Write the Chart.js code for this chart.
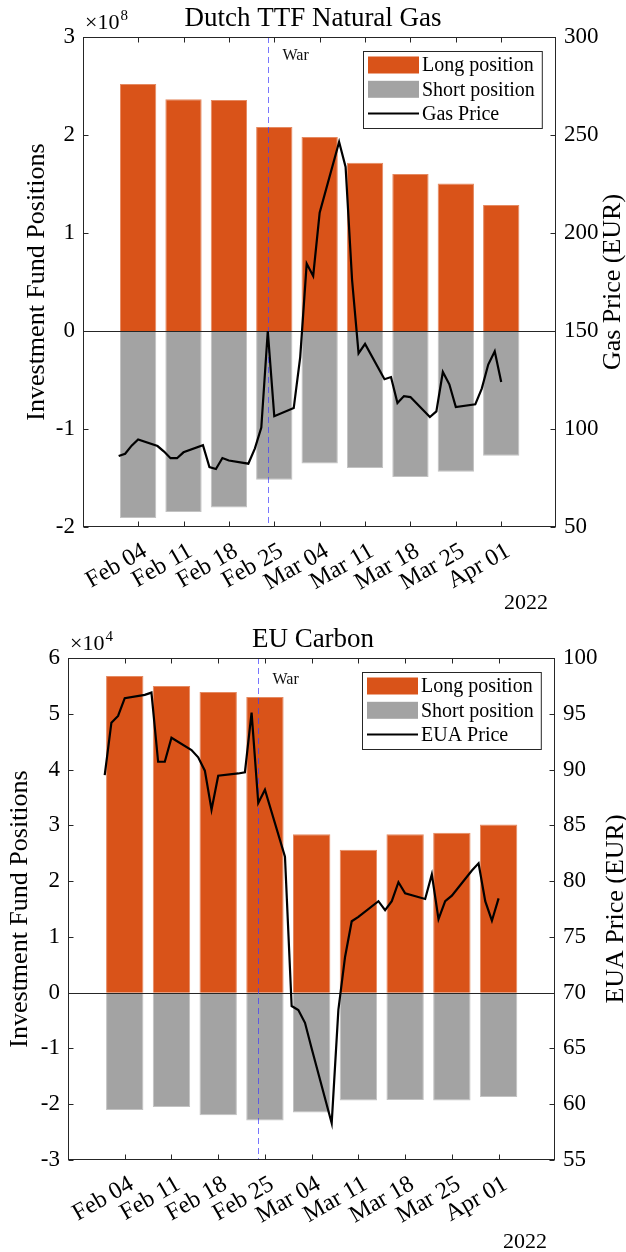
<!DOCTYPE html>
<html>
<head>
<meta charset="utf-8">
<script src="https://cdn.jsdelivr.net/npm/chart.js@4.4.1/dist/chart.umd.min.js"></script>
<style>
  html, body { margin: 0; padding: 0; background: #fff; }
  .panel { position: absolute; left: 0; width: 626px; height: 626px; }
</style>
</head>
<body>
<div class="panel" style="top:0"><canvas id="gasChart" width="626" height="626"></canvas></div>
<div class="panel" style="top:626px"><canvas id="euaChart" width="626" height="626"></canvas></div>
<script>
// weekly COT report dates (bar positions) and their tick labels
const weeks = ['2022-02-04', '2022-02-11', '2022-02-18', '2022-02-25', '2022-03-04',
               '2022-03-11', '2022-03-18', '2022-03-25', '2022-04-01'];
const weekLabels = ['Feb 04', 'Feb 11', 'Feb 18', 'Feb 25', 'Mar 04',
                    'Mar 11', 'Mar 18', 'Mar 25', 'Apr 01'];

// investment fund positions
const gasLong  = [2.52e8, 2.364e8, 2.357e8, 2.082e8, 1.98e8, 1.718e8, 1.602e8, 1.504e8, 1.286e8];
const gasShort = [-1.908e8, -1.847e8, -1.802e8, -1.517e8, -1.353e8, -1.398e8, -1.49e8, -1.435e8, -1.272e8];
const euaLong  = [5.676e4, 5.496e4, 5.389e4, 5.30e4, 2.838e4, 2.563e4, 2.838e4, 2.867e4, 3.017e4];
const euaShort = [-2.102e4, -2.048e4, -2.198e4, -2.294e4, -2.15e4, -1.935e4, -1.923e4, -1.935e4, -1.869e4];

// daily settlement prices (EUR)
const priceDates = ['2022-02-01', '2022-02-02', '2022-02-03', '2022-02-04', '2022-02-07', '2022-02-08',
  '2022-02-09', '2022-02-10', '2022-02-11', '2022-02-14', '2022-02-15', '2022-02-16', '2022-02-17',
  '2022-02-18', '2022-02-21', '2022-02-22', '2022-02-23', '2022-02-24', '2022-02-25', '2022-02-28',
  '2022-03-01', '2022-03-02', '2022-03-03', '2022-03-04', '2022-03-07', '2022-03-08', '2022-03-09',
  '2022-03-10', '2022-03-11', '2022-03-14', '2022-03-15', '2022-03-16', '2022-03-17', '2022-03-18',
  '2022-03-21', '2022-03-22', '2022-03-23', '2022-03-24', '2022-03-25', '2022-03-28', '2022-03-29',
  '2022-03-30', '2022-03-31', '2022-04-01'];
const gasPrice = [86.2, 87.4, 91.5, 94.7, 91.3, 88.5, 85.1, 85.1, 88.1, 91.7, 80.6, 79.6, 85.2,
  83.9, 82.3, 90.0, 100.7, 150.0, 106.5, 110.7, 136.7, 184.4, 178.1, 210.4, 246.4, 233.7, 176.0,
  138.6, 143.4, 125.4, 126.5, 113.3, 116.8, 116.3, 106.1, 109.0, 129.1, 122.8, 111.2, 112.6, 120.6,
  132.9, 139.6, 124.0];
const euaPrice = [89.5, 94.2, 94.8, 96.4, 96.7, 96.9, 90.7, 90.7, 92.85, 91.75, 91.1, 89.9, 86.4,
  89.45, 89.65, 89.75, 95.1, 87.0, 88.2, 82.2, 68.8, 68.45, 67.3, 65.0, 58.3, 68.45, 73.2,
  76.4, 76.8, 78.2, 77.4, 78.2, 79.9, 78.9, 78.4, 80.6, 76.6, 78.2, 78.7, 80.95, 81.6,
  78.2, 76.45, 78.45];

const warDate = '2022-02-24';

const FONT = '"Liberation Serif", "Times New Roman", serif';
const AXIS = '#262626';

// days since the first report date, used as the x value
const dayOf = s => (Date.parse(s) - Date.parse(weeks[0])) / 864e5;

// box, inward ticks, zero line, war marker, legend and small labels (MATLAB look)
const decor = {
  id: 'decor',
  beforeDatasetDraw(chart, args, opts) {
    if (args.meta.type !== 'line') return;
    const { ctx, chartArea: a, scales } = chart;
    ctx.save();
    const y0 = Math.round(scales.y.getPixelForValue(0)) + 0.5;
    ctx.strokeStyle = AXIS;
    ctx.lineWidth = 1;
    ctx.beginPath();
    ctx.moveTo(a.left, y0);
    ctx.lineTo(a.right, y0);
    ctx.stroke();

    const xw = Math.round(scales.x.getPixelForValue(dayOf(warDate))) + 0.5;
    ctx.strokeStyle = 'rgba(60,60,255,0.7)';
    ctx.setLineDash([6, 4]);
    ctx.beginPath();
    ctx.moveTo(xw, a.top);
    ctx.lineTo(xw, a.bottom);
    ctx.stroke();
    ctx.setLineDash([]);
    ctx.fillStyle = '#111';
    ctx.font = '16px ' + FONT;
    ctx.textBaseline = 'middle';
    ctx.fillText('War', xw + 14, a.top + opts.warY);
    ctx.restore();
  },
  afterDraw(chart, args, opts) {
    const { ctx, chartArea: a, scales } = chart;
    const L = Math.round(a.left) + 0.5, R = Math.round(a.right) - 0.5;
    const T = Math.round(a.top) + 0.5, B = Math.round(a.bottom) - 0.5;
    ctx.save();
    ctx.strokeStyle = AXIS;
    ctx.lineWidth = 1;
    ctx.strokeRect(L, T, R - L, B - T);
    ctx.beginPath();
    scales.x.ticks.forEach(t => {
      const x = Math.round(scales.x.getPixelForValue(t.value)) + 0.5;
      ctx.moveTo(x, B); ctx.lineTo(x, B - 5);
      ctx.moveTo(x, T); ctx.lineTo(x, T + 5);
    });
    scales.y.ticks.forEach(t => {
      const y = Math.round(scales.y.getPixelForValue(t.value)) + 0.5;
      ctx.moveTo(L, y); ctx.lineTo(L + 5, y);
    });
    scales.y2.ticks.forEach(t => {
      const y = Math.round(scales.y2.getPixelForValue(t.value)) + 0.5;
      ctx.moveTo(R, y); ctx.lineTo(R - 5, y);
    });
    ctx.stroke();

    // exponent of the left axis
    ctx.fillStyle = '#000';
    ctx.textBaseline = 'middle';
    ctx.font = '22px ' + FONT;
    ctx.fillText('\u00d710', a.left + 2, a.top - 14);
    const w10 = ctx.measureText('\u00d710').width;
    ctx.font = '15px ' + FONT;
    ctx.fillText(opts.exponent, a.left + 2 + w10 + 1, a.top - 21);

    // year under the date axis
    ctx.font = '22px ' + FONT;
    ctx.textAlign = 'right';
    ctx.fillText('2022', a.right - 8, a.bottom + opts.yearY);

    // right axis title, reading bottom to top like the left one
    ctx.save();
    ctx.translate(opts.rightTitleX, (a.top + a.bottom) / 2);
    ctx.rotate(-Math.PI / 2);
    ctx.textAlign = 'center';
    ctx.font = '26px ' + FONT;
    ctx.fillText(opts.rightTitle, 0, 0);
    ctx.restore();

    // legend box
    const items = chart.data.datasets;
    ctx.font = '20px ' + FONT;
    ctx.textAlign = 'left';
    const textW = Math.max(...items.map(d => ctx.measureText(d.label).width));
    const w = 59 + textW + 7, h = 77;
    const bx = Math.round(a.right - 14 - w), by = Math.round(a.top + 14);
    ctx.fillStyle = '#fff';
    ctx.fillRect(bx, by, w, h);
    ctx.strokeStyle = AXIS;
    ctx.strokeRect(bx + 0.5, by + 0.5, w, h);
    items.forEach((d, i) => {
      const cy = by + 14 + i * 24.3;
      if (d.type === 'line') {
        ctx.strokeStyle = d.borderColor;
        ctx.lineWidth = 2;
        ctx.beginPath();
        ctx.moveTo(bx + 5, cy);
        ctx.lineTo(bx + 56, cy);
        ctx.stroke();
      } else {
        ctx.fillStyle = d.backgroundColor;
        ctx.fillRect(bx + 5, cy - 8.5, 51, 17);
      }
      ctx.fillStyle = '#000';
      ctx.fillText(d.label, bx + 59, cy + 1);
    });
    ctx.restore();
  }
};

function makeChart(id, p) {
  return new Chart(document.getElementById(id), {
    type: 'bar',
    data: {
      datasets: [
        {
          label: 'Long position',
          data: weeks.map((w, i) => ({ x: dayOf(w), y: p.long[i] })),
          backgroundColor: '#D95319',
          borderColor: '#E58A62',
          borderWidth: 1,
          stack: 'pos',
          order: 1
        },
        {
          label: 'Short position',
          data: weeks.map((w, i) => ({ x: dayOf(w), y: p.short[i] })),
          backgroundColor: '#A3A3A3',
          borderColor: '#C2C2C2',
          borderWidth: 1,
          stack: 'pos',
          order: 1
        },
        {
          type: 'line',
          label: p.priceLabel,
          data: priceDates.map((d, i) => ({ x: dayOf(d), y: p.price[i] })),
          yAxisID: 'y2',
          borderColor: '#000',
          borderWidth: 2.2,
          pointRadius: 0,
          tension: 0,
          order: 0
        }
      ]
    },
    options: {
      responsive: false,
      animation: false,
      devicePixelRatio: 1,
      layout: { padding: 0 },
      categoryPercentage: 1,
      barPercentage: 0.8,
      plugins: {
        legend: { display: false },
        tooltip: { enabled: false },
        title: {
          display: true,
          text: p.title,
          color: '#000',
          font: { family: FONT, size: 27, weight: 'normal', lineHeight: 1 },
          padding: { top: p.titleTop, bottom: p.titleBottom }
        },
        decor: {
          exponent: p.exponent,
          warY: p.warY,
          yearY: p.yearY,
          rightTitle: p.rightTitle,
          rightTitleX: p.rightTitleX
        }
      },
      scales: {
        x: {
          type: 'linear',
          min: -8.5,
          max: 64.45,
          offset: false,
          stacked: true,
          grid: { display: false, drawTicks: false },
          border: { display: false },
          afterBuildTicks: s => { s.ticks = weeks.map(w => ({ value: dayOf(w) })); },
          ticks: {
            autoSkip: false,
            minRotation: 30,
            maxRotation: 30,
            padding: 10,
            labelOffset: 7,
            color: '#000',
            font: { family: FONT, size: 24 },
            callback: (v, i) => weekLabels[i]
          },
          afterFit: s => { s.height = p.xHeight; }
        },
        y: {
          position: 'left',
          min: p.yMin,
          max: p.yMax,
          stacked: true,
          grid: { display: false, drawTicks: false },
          border: { display: false },
          ticks: {
            stepSize: p.yStep,
            padding: 8,
            color: '#000',
            font: { family: FONT, size: 23 },
            callback: v => String(Math.round(v / p.yScale))
          },
          title: {
            display: true,
            text: 'Investment Fund Positions',
            color: '#000',
            font: { family: FONT, size: 26, lineHeight: 1 },
            padding: { top: p.leftTitlePad }
          },
          afterFit: s => { s.width = p.leftW; }
        },
        y2: {
          position: 'right',
          min: p.y2Min,
          max: p.y2Max,
          stacked: false,
          grid: { display: false, drawTicks: false },
          border: { display: false },
          ticks: {
            stepSize: p.y2Step,
            padding: 8,
            color: '#000',
            font: { family: FONT, size: 23 }
          },
          afterFit: s => { s.width = p.rightW; }
        }
      }
    },
    plugins: [decor]
  });
}

makeChart('gasChart', {
  title: 'Dutch TTF Natural Gas',
  long: gasLong, short: gasShort, price: gasPrice,
  priceLabel: 'Gas Price', rightTitle: 'Gas Price (EUR)',
  yMin: -2e8, yMax: 3e8, yStep: 1e8, yScale: 1e8, exponent: '8',
  y2Min: 50, y2Max: 300, y2Step: 50,
  leftW: 83, rightW: 70, xHeight: 99,
  titleTop: 5, titleBottom: 5,
  leftTitlePad: 24, rightTitleX: 613,
  warY: 19, yearY: 76
});

makeChart('euaChart', {
  title: 'EU Carbon',
  long: euaLong, short: euaShort, price: euaPrice,
  priceLabel: 'EUA Price', rightTitle: 'EUA Price (EUR)',
  yMin: -3e4, yMax: 6e4, yStep: 1e4, yScale: 1e4, exponent: '4',
  y2Min: 55, y2Max: 100, y2Step: 5,
  leftW: 68, rightW: 71, xHeight: 92,
  titleTop: 0, titleBottom: 5,
  leftTitlePad: 7, rightTitleX: 616,
  warY: 22, yearY: 82
});
</script>
</body>
</html>
